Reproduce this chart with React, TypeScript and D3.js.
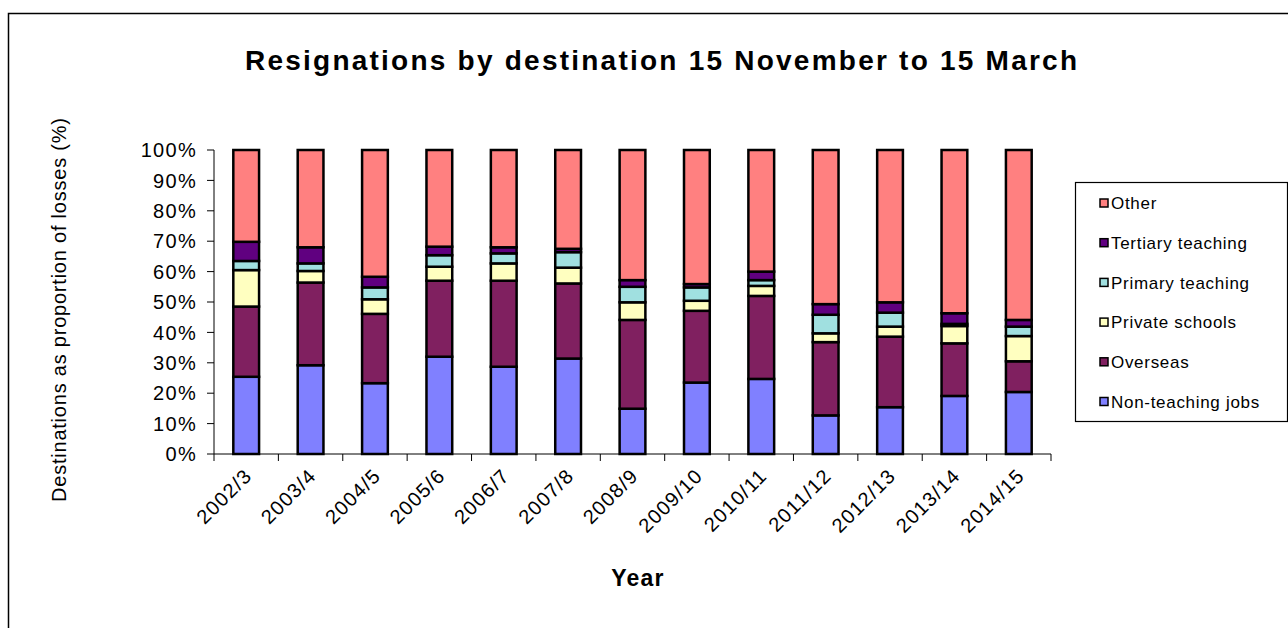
import * as d3 from 'd3';

const years = [
  '2002/3', '2003/4', '2004/5', '2005/6', '2006/7', '2007/8', '2008/9',
  '2009/10', '2010/11', '2011/12', '2012/13', '2013/14', '2014/15',
];

// shares of losses (%) by destination
const nonTeaching = [25.4, 29.2, 23.3, 32.0, 28.7, 31.4, 14.9, 23.5, 24.7, 12.7, 15.4, 19.1, 20.4];
const overseas = [23.1, 27.2, 22.8, 25.0, 28.3, 24.7, 29.2, 23.6, 27.3, 24.1, 23.2, 17.3, 10.1];
const privateSchools = [12.0, 3.8, 4.8, 4.6, 5.7, 5.2, 5.8, 3.3, 3.3, 2.9, 3.3, 5.7, 8.3];
const primaryTeaching = [3.0, 2.5, 3.9, 3.8, 3.3, 5.1, 5.1, 4.4, 1.9, 6.1, 4.6, 0.7, 3.1];
const tertiaryTeaching = [6.3, 5.3, 3.5, 2.8, 2.0, 1.1, 2.2, 1.1, 2.8, 3.5, 3.4, 3.5, 2.2];
const other = [30.2, 32.0, 41.7, 31.8, 32.0, 32.5, 42.8, 44.1, 40.0, 50.7, 50.1, 53.7, 55.9];

const seriesNames = [
  'Non-teaching jobs', 'Overseas', 'Private schools',
  'Primary teaching', 'Tertiary teaching', 'Other',
];
const seriesValues = [nonTeaching, overseas, privateSchools, primaryTeaching, tertiaryTeaching, other];
const seriesColors = ['#8080FF', '#802060', '#FFFFC0', '#A0E0E0', '#600080', '#FF8080'];

const yTicks = [0, 0.1, 0.2, 0.3, 0.4, 0.5, 0.6, 0.7, 0.8, 0.9, 1];

const W = 1288;
const H = 628;
const plot = { left: 214, right: 1051, top: 150, bottom: 454 };
const font = '"Liberation Sans", Arial, sans-serif';

export default function App() {
  const rows = years.map((year, i) => {
    const row: Record<string, any> = { year };
    seriesNames.forEach((name, s) => (row[name] = seriesValues[s][i]));
    return row;
  });

  const stacked = d3.stack<any>().keys(seriesNames).offset(d3.stackOffsetExpand)(rows);

  const x = d3
    .scaleBand<string>()
    .domain(years)
    .range([plot.left, plot.right])
    .paddingInner(0.6)
    .paddingOuter(0.3);

  const y = d3.scaleLinear().domain([0, 1]).range([plot.bottom, plot.top]);
  const step = x.step();
  const edges = d3.range(years.length + 1).map((i) => plot.left + i * step);

  const legendTop = 203;
  const legendGap = 39.7;

  return (
    <svg
      width={W}
      height={H}
      style={{ position: 'absolute', left: 0, top: 0, background: '#fff' }}
      fontFamily={font}
    >
      {/* outer chart frame, runs off the right and bottom */}
      <rect x={8.5} y={13.5} width={1300} height={700} fill="#fff" stroke="#000" strokeWidth={1.5} />

      <text
        x={661}
        y={70}
        textAnchor="middle"
        fontSize={28}
        fontWeight="bold"
        textLength={832}
        lengthAdjust="spacing"
      >
        Resignations by destination 15 November to 15 March
      </text>

      {/* bars */}
      {stacked.map((layer, s) => (
        <g key={layer.key} fill={seriesColors[s]} stroke="#000" strokeWidth={2.5}>
          {layer.map((d, i) => (
            <rect
              key={years[i]}
              x={x(years[i])}
              y={y(d[1])}
              width={x.bandwidth()}
              height={y(d[0]) - y(d[1])}
            />
          ))}
        </g>
      ))}

      {/* y axis */}
      <line x1={plot.left} x2={plot.left} y1={plot.top} y2={plot.bottom} stroke="#000" />
      {yTicks.map((t) => (
        <g key={t}>
          <line x1={plot.left - 7} x2={plot.left} y1={y(t)} y2={y(t)} stroke="#000" />
          <text
            x={197}
            y={y(t)}
            dy="0.36em"
            textAnchor="end"
            fontSize={20}
            letterSpacing={1.3}
          >
            {d3.format('.0%')(t)}
          </text>
        </g>
      ))}

      {/* x axis */}
      <line x1={plot.left} x2={plot.right} y1={plot.bottom} y2={plot.bottom} stroke="#000" />
      {edges.map((e, i) => (
        <line key={i} x1={e} x2={e} y1={plot.bottom} y2={plot.bottom + 7} stroke="#000" />
      ))}
      {years.map((yr) => {
        const cx = (x(yr) ?? 0) + x.bandwidth() / 2;
        return (
          <text
            key={yr}
            transform={`translate(${cx + 7},${plot.bottom + 23}) rotate(-45)`}
            textAnchor="end"
            fontSize={20}
            letterSpacing={1.2}
          >
            {yr}
          </text>
        );
      })}

      <text x={638} y={586} textAnchor="middle" fontSize={23} fontWeight="bold" letterSpacing={1.2}>
        Year
      </text>

      <text
        transform="translate(66,310) rotate(-90)"
        textAnchor="middle"
        fontSize={20}
        textLength={384}
        lengthAdjust="spacing"
      >
        Destinations as proportion of losses (%)
      </text>

      {/* legend, top entry is the top of the stack */}
      <rect x={1075.5} y={182.5} width={212} height={239} fill="#fff" stroke="#000" strokeWidth={1.2} />
      {seriesNames
        .map((name, s) => ({ name, color: seriesColors[s] }))
        .reverse()
        .map((item, i) => {
          const cy = legendTop + i * legendGap;
          return (
            <g key={item.name}>
              <rect x={1100} y={cy - 4} width={8} height={8} fill={item.color} stroke="#000" strokeWidth={1.5} />
              <text x={1111} y={cy} dy="0.36em" fontSize={17} letterSpacing={0.7}>
                {item.name}
              </text>
            </g>
          );
        })}
    </svg>
  );
}
